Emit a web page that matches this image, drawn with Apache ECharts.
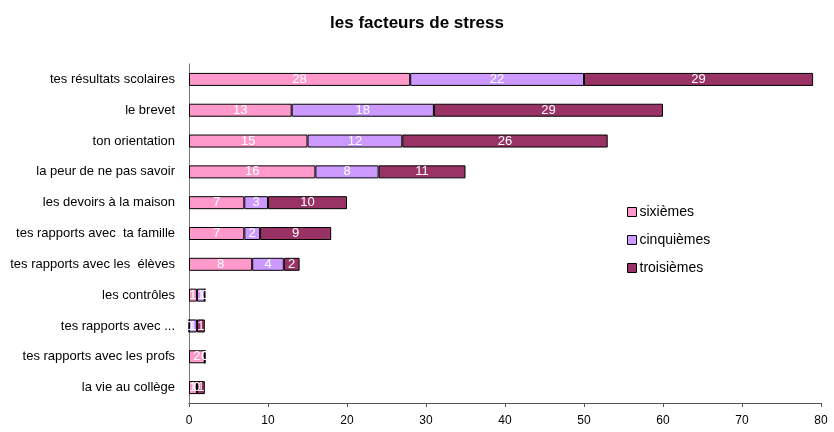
<!DOCTYPE html>
<html>
<head>
<meta charset="utf-8">
<script src="https://cdn.jsdelivr.net/npm/echarts@6/dist/echarts.min.js"></script>
<style>
  html, body { margin: 0; padding: 0; background: #fff; }
  #chart { width: 834px; height: 432px; }
</style>
</head>
<body>
<div id="chart"></div>
<script>
// categories listed bottom to top (yAxis category order)
const categories = [
  'la vie au collège',
  'tes rapports avec les profs',
  'tes rapports avec ...',
  'les contrôles',
  'tes rapports avec les  élèves',
  'tes rapports avec  ta famille',
  'les devoirs à la maison',
  'la peur de ne pas savoir',
  'ton orientation',
  'le brevet',
  'tes résultats scolaires'
];
const sixiemes    = [1, 2, 0, 1, 8, 7, 7, 16, 15, 13, 28];
const cinquiemes  = [0, 0, 1, 1, 4, 2, 3, 8, 12, 18, 22];
const troisiemes  = [1, 0, 1, 0, 2, 9, 10, 11, 26, 29, 29];
const xTicks = [0, 10, 20, 30, 40, 50, 60, 70, 80];

const font = '"Liberation Sans", Arial, sans-serif';

function makeSeries(name, data, color) {
  return {
    name: name,
    type: 'bar',
    stack: 'total',
    data: data,
    barWidth: 13,
    itemStyle: { color: color, borderColor: '#000', borderWidth: 1 },
    label: {
      show: true,
      position: 'inside',
      color: '#fff',
      fontFamily: font,
      fontSize: 13
    },
    emphasis: { disabled: true }
  };
}

const chart = echarts.init(document.getElementById('chart'));
chart.setOption({
  animation: false,
  title: {
    text: 'les facteurs de stress',
    left: 'center',
    top: 10,
    textStyle: { fontFamily: font, fontSize: 17, fontWeight: 'bold', color: '#000' }
  },
  legend: {
    orient: 'vertical',
    left: 622,
    top: 200,
    itemWidth: 9,
    itemHeight: 9,
    itemGap: 14,
    icon: 'rect',
    textStyle: { fontFamily: font, fontSize: 14, color: '#000', padding: [0, 0, 0, -2] },
    itemStyle: { borderColor: '#000', borderWidth: 1 },
    data: ['sixièmes', 'cinquièmes', 'troisièmes']
  },
  grid: { left: 189, right: 13, top: 64, bottom: 29, containLabel: false },
  xAxis: {
    type: 'value',
    min: xTicks[0],
    max: xTicks[xTicks.length - 1],
    interval: 10,
    axisLine: { show: true, lineStyle: { color: '#555' } },
    axisTick: { show: true, length: 4, lineStyle: { color: '#555' } },
    axisLabel: { color: '#000', fontFamily: font, fontSize: 12, margin: 12 },
    splitLine: { show: false }
  },
  yAxis: {
    type: 'category',
    data: categories,
    axisLine: { show: true, lineStyle: { color: '#777' } },
    axisTick: { show: false },
    axisLabel: { color: '#000', fontFamily: font, fontSize: 13, margin: 14 }
  },
  series: [
    makeSeries('sixièmes', sixiemes, '#FF99CC'),
    makeSeries('cinquièmes', cinquiemes, '#CC99FF'),
    makeSeries('troisièmes', troisiemes, '#993366')
  ]
});
</script>
</body>
</html>
